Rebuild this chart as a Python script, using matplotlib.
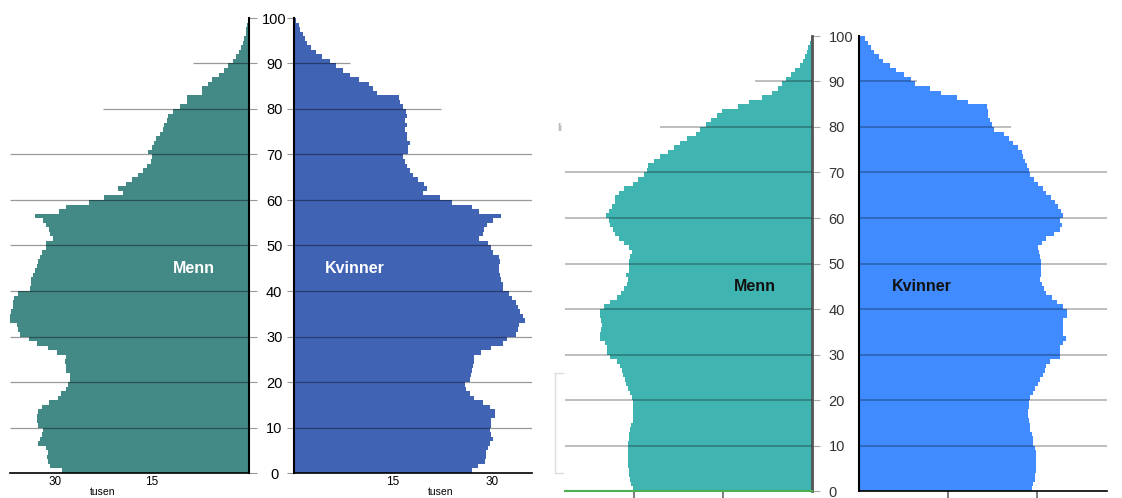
import numpy as np
import matplotlib.pyplot as plt
from matplotlib.lines import Line2D

plt.rcParams['font.family'] = ['Liberation Sans', 'DejaVu Sans']

# ages 0..99, one bar per year (thousands)
ages = np.arange(100)

menn_a = [28.8, 30.8, 31.0, 31.2, 31.0, 31.3, 32.6, 32.3, 32.0, 31.8,
          32.6, 32.7, 32.8, 32.6, 31.9, 30.9, 29.5, 29.0, 28.2, 27.9,
          27.7, 27.7, 28.2, 28.3, 28.4, 28.2, 29.7, 31.0, 32.8, 34.0,
          35.3, 35.7, 35.8, 37.0, 36.9, 36.7, 36.4, 36.5, 36.3, 35.7,
          33.8, 33.7, 33.6, 33.3, 33.1, 32.8, 32.6, 32.3, 32.0, 31.3,
          31.3, 30.3, 30.7, 30.9, 31.4, 31.8, 33.0, 29.4, 28.3, 24.7,
          22.4, 19.5, 20.2, 19.0, 18.1, 17.1, 16.4, 15.8, 15.2, 15.0,
          15.6, 14.9, 14.7, 14.4, 13.8, 13.3, 13.2, 12.7, 12.5, 11.7,
          10.6, 9.6, 9.5, 7.3, 7.2, 6.4, 5.7, 4.6, 3.9, 3.2,
          2.4, 2.0, 1.6, 1.3, 1.0, 0.7, 0.5, 0.4, 0.3, 0.15]

kvinner_a = [26.9, 27.9, 28.9, 29.1, 29.1, 29.4, 29.7, 30.1, 29.9, 29.7,
             29.8, 29.9, 30.5, 30.5, 29.7, 28.7, 27.3, 26.6, 26.1, 25.9,
             26.7, 26.8, 26.9, 27.1, 27.3, 27.3, 28.4, 29.9, 31.7, 32.2,
             33.7, 34.0, 34.1, 35.0, 34.7, 34.2, 34.0, 33.6, 33.1, 32.5,
             31.7, 31.6, 31.3, 31.2, 31.1, 31.1, 31.2, 31.0, 30.2, 29.9,
             29.4, 28.1, 28.6, 28.8, 29.2, 30.2, 31.3, 28.1, 26.9, 24.0,
             22.1, 19.5, 20.1, 19.7, 18.8, 18.1, 17.5, 17.1, 16.8, 16.5,
             17.2, 17.3, 17.5, 17.1, 17.1, 16.8, 17.1, 16.8, 17.1, 17.0,
             16.5, 16.1, 15.9, 12.5, 12.0, 11.4, 9.8, 8.5, 7.4, 6.3,
             5.5, 4.3, 3.4, 2.5, 1.9, 1.7, 1.3, 0.9, 0.7, 0.3]

menn_b = [30.2, 30.5, 30.7, 30.8, 30.8, 31.0, 31.1, 31.1, 31.1, 31.1,
          31.0, 30.8, 30.8, 30.7, 30.5, 30.2, 30.2, 30.1, 30.1, 30.2,
          30.4, 30.7, 31.0, 31.3, 31.5, 31.8, 32.1, 32.4, 32.9, 34.0,
          34.5, 34.6, 34.9, 35.7, 35.8, 35.6, 35.4, 35.6, 35.8, 35.7,
          35.1, 34.1, 32.9, 32.2, 31.7, 31.2, 31.1, 31.3, 30.8, 30.8,
          30.8, 30.7, 30.4, 30.8, 31.7, 32.6, 33.2, 33.6, 34.0, 34.2,
          34.7, 34.2, 33.8, 33.3, 33.2, 32.5, 31.7, 30.1, 29.3, 28.4,
          27.9, 27.6, 26.7, 25.6, 24.2, 23.3, 22.2, 21.1, 19.6, 18.9,
          17.9, 17.0, 16.1, 15.2, 12.4, 10.7, 8.5, 6.8, 5.7, 5.0,
          4.4, 3.6, 2.9, 2.1, 1.6, 1.2, 0.9, 0.6, 0.4, 0.2]

kvinner_b = [29.1, 29.4, 29.7, 29.7, 29.8, 29.8, 29.8, 29.8, 29.8, 29.7,
             29.4, 29.3, 29.1, 28.9, 28.8, 28.7, 28.5, 28.5, 28.7, 28.7,
             28.9, 29.4, 29.7, 30.2, 30.5, 31.0, 31.3, 31.6, 32.2, 33.8,
             33.8, 33.8, 34.3, 34.9, 34.4, 34.4, 34.4, 34.4, 35.0, 35.0,
             34.3, 33.4, 32.5, 31.6, 31.1, 30.8, 30.5, 30.6, 30.6, 30.6,
             30.6, 30.5, 30.4, 30.1, 30.8, 31.6, 32.8, 33.9, 34.2, 33.9,
             34.4, 34.0, 33.5, 33.0, 32.3, 31.6, 31.0, 30.2, 29.5, 28.9,
             28.6, 28.4, 28.0, 27.6, 27.5, 26.8, 25.9, 25.2, 24.4, 22.8,
             22.4, 22.1, 21.8, 21.7, 21.5, 18.3, 16.5, 13.9, 11.9, 9.4,
             8.7, 7.6, 6.3, 5.2, 4.1, 3.4, 2.6, 2.0, 1.6, 1.0]

y_ticks = list(range(0, 101, 10))
y_labels = [str(t) for t in y_ticks]
x_ticks = [15, 30]
x_labels = ['15', '30']
grid_ages = [10, 20, 30, 40, 50, 60, 70, 80, 90]

W, H = 1122, 498
fig = plt.figure(figsize=(W / 100, H / 100), dpi=100)


def box(x0, x1, ytop, ybot):
    return [x0 / W, 1 - ybot / H, (x1 - x0) / W, (ybot - ytop) / H]


def draw_grid(ax, xmax, short, color, alpha, lw, side):
    # short = how far the 80 and 90 lines reach from the spine
    for g in grid_ages:
        reach = short.get(g, xmax)
        if side == 'left':
            ax.hlines(g, reach, 0, colors=color, alpha=alpha, lw=lw, zorder=3)
        else:
            ax.hlines(g, 0, reach, colors=color, alpha=alpha, lw=lw, zorder=3)


# ---- left pair (older picture) ----
ax_ma = fig.add_axes(box(10, 249, 18, 473))
ax_ka = fig.add_axes(box(294, 532, 18, 473))

ax_ma.barh(ages, menn_a, height=1, align='edge', color='#438a87', linewidth=0, zorder=2)
ax_ka.barh(ages, kvinner_a, height=1, align='edge', color='#4163b4', linewidth=0, zorder=2)
ax_ma.set_xlim(36.9, 0)
ax_ka.set_xlim(0, 36.06)
draw_grid(ax_ma, 36.9, {80: 22.6, 90: 8.7}, 'black', 0.4, 0.9, 'left')
draw_grid(ax_ka, 36.06, {80: 22.3, 90: 8.5}, 'black', 0.4, 0.9, 'right')

for ax in (ax_ma, ax_ka):
    ax.set_ylim(0, 100)
    ax.set_facecolor('none')
    ax.spines['top'].set_visible(False)
    ax.spines['bottom'].set_linewidth(1.2)
    ax.set_xticks(x_ticks)
    ax.set_xticklabels(x_labels)
    ax.tick_params(axis='x', length=0, pad=2, labelsize=8.5)
    ax.set_yticks(y_ticks)

ax_ma.spines['left'].set_visible(False)
ax_ma.spines['right'].set_linewidth(1.5)
ax_ma.yaxis.tick_right()
ax_ma.set_yticklabels(y_labels)
ax_ma.tick_params(axis='y', length=6, color='#999999', labelsize=10.5, pad=12.2)
for lab in ax_ma.get_yticklabels():
    lab.set_horizontalalignment('center')

ax_ka.spines['right'].set_visible(False)
ax_ka.spines['left'].set_linewidth(1.5)
ax_ka.set_yticklabels([])
ax_ka.tick_params(axis='y', length=5, color='#999999')

fig.text(194 / W, 1 - 268 / H, 'Menn', ha='center', va='center', color='white',
         fontweight='bold', fontsize=11.5)
fig.text(355 / W, 1 - 268 / H, 'Kvinner', ha='center', va='center', color='white',
         fontweight='bold', fontsize=11.5)
fig.text(103 / W, 1 - 497 / H, 'tusen', ha='center', va='bottom', fontsize=7.5)
fig.text(441 / W, 1 - 497 / H, 'tusen', ha='center', va='bottom', fontsize=7.5)

# ---- right pair (newer picture) ----
ax_mb = fig.add_axes(box(565, 812, 36, 491))
ax_kb = fig.add_axes(box(859, 1107, 36, 491))

ax_mb.barh(ages, menn_b, height=1, align='edge', color='#3fb4b1', linewidth=0, zorder=2)
ax_kb.barh(ages, kvinner_b, height=1, align='edge', color='#3f8bff', linewidth=0, zorder=2)
ax_mb.set_xlim(41.65, 0)
ax_kb.set_xlim(0, 41.8)
draw_grid(ax_mb, 41.65, {80: 25.6, 90: 9.6}, 'black', 0.28, 1.3, 'left')
draw_grid(ax_kb, 41.8, {80: 25.6, 90: 9.8}, 'black', 0.28, 1.3, 'right')

for ax in (ax_mb, ax_kb):
    ax.set_ylim(0, 100)
    ax.set_facecolor('none')
    ax.spines['top'].set_visible(False)
    ax.set_xticks(x_ticks)
    ax.set_xticklabels([])
    ax.tick_params(axis='x', length=7, color='#666666', width=1.2)
    ax.set_yticks(y_ticks)

ax_mb.spines['left'].set_visible(False)
ax_mb.spines['right'].set_linewidth(2)
ax_mb.spines['right'].set_color('#555555')
ax_mb.spines['bottom'].set_color('#4caf50')
ax_mb.spines['bottom'].set_linewidth(1.5)
ax_mb.yaxis.tick_right()
ax_mb.set_yticklabels(y_labels)
ax_mb.tick_params(axis='y', length=6, color='#aaaaaa', labelsize=10.5, pad=5.8,
                  labelcolor='#333333')

ax_kb.spines['right'].set_visible(False)
ax_kb.spines['left'].set_linewidth(1.5)
ax_kb.spines['bottom'].set_linewidth(1.2)
ax_kb.set_yticklabels([])
ax_kb.tick_params(axis='y', length=0)

fig.text(755 / W, 1 - 286 / H, 'Menn', ha='center', va='center', color='#111111',
         fontweight='bold', fontsize=11.5)
fig.text(922 / W, 1 - 286 / H, 'Kvinner', ha='center', va='center', color='#111111',
         fontweight='bold', fontsize=11.5)
fig.text(560 / W, 1 - 128 / H, 'li', ha='center', va='center', color='#aaaaaa', fontsize=8)

# faint bracket left of the right picture
for xs, ys in [((563, 555), (373, 373)), ((555, 555), (373, 473)), ((555, 563), (473, 473))]:
    fig.add_artist(Line2D([x / W for x in xs], [1 - y / H for y in ys],
                          color='#dddddd', lw=1))

fig.savefig('out.png', dpi=100)
